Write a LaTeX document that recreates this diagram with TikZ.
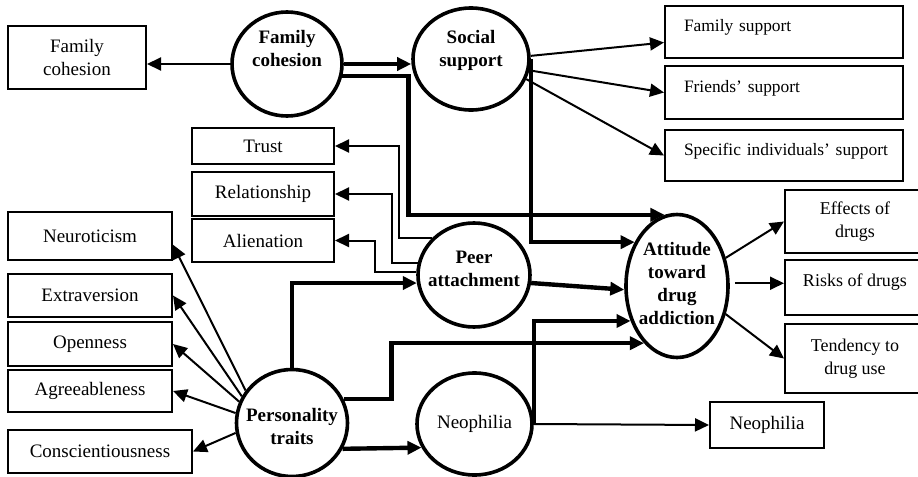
\documentclass[tikz,border=0pt]{standalone}
\usepackage{fontspec}
\setmainfont{Liberation Serif}
\usetikzlibrary{positioning, arrows.meta, shapes.geometric}

\begin{document}
\begin{tikzpicture}[
  x=0.5pt, y=-0.5pt,
  font=\fontsize{9.5}{11.5}\selectfont,
  box/.style={draw, line width=1pt, align=center, inner sep=2pt},
  supbox/.style={box, minimum width=119pt, text width=100pt, align=left,
                 font=\fontsize{8.7}{11}\selectfont, text height=6.5pt, text depth=7pt},
  drugbox/.style={box, minimum width=70pt, font=\fontsize{9}{11.5}\selectfont},
  trait/.style={box, minimum width=82pt},
  blob/.style={draw, ellipse, line width=1.8pt, inner sep=0pt},
  blobtxt/.style={align=center, font=\fontsize{9.5}{11.5}\selectfont\bfseries},
  ar/.style={-{Triangle[length=7pt, width=6.5pt]}, line width=1pt},
  thk/.style={-{Triangle[length=7pt, width=6.5pt]}, line width=2.2pt},
]
  \useasboundingbox (0,0) rectangle (918,477);
  \clip (0,0) rectangle (918,477);

  % constructs
  \node[blob, minimum width=55pt, minimum height=52pt] (fc) at (287,64) {};
  \node[blobtxt] (fctx) at (287,48) {Family\\cohesion};
  \node[blob, minimum width=58pt, minimum height=51pt] (ss) at (471,59) {};
  \node[blobtxt] (sstx) at (471,50) {Social\\support};
  \node[blob, minimum width=56pt, minimum height=52pt] (peer) at (474,275) {};
  \node[blobtxt] (peertx) at (474,269) {Peer\\attachment};
  \node[blob, minimum width=51pt, minimum height=71.5pt] (att) at (677,286) {};
  \node[blobtxt] (atttx) at (677,283) {Attitude\\toward\\drug\\addiction};
  \node[blob, minimum width=55.5pt, minimum height=53.5pt] (pers) at (292,423) {};
  \node[blobtxt] (perstx) at (292,426) {Personality\\traits};
  \node[blob, minimum width=57.5pt, minimum height=51pt] (neo) at (474.5,424) {Neophilia};

  % indicators
  \node[box, minimum width=69pt, minimum height=31.5pt] (fcbox) at (77,57.5) {Family\\cohesion};
  \node[box, minimum width=71pt, minimum height=18pt] (trust) at (263,146) {Trust};
  \node[box, minimum width=71pt, minimum height=22pt] (rel) at (263,194) {Relationship};
  \node[box, minimum width=71pt, minimum height=21.5pt] (alien) at (263,240.5) {Alienation};
  \node[trait, minimum height=24pt] (neuro) at (90,236) {Neuroticism};
  \node[trait, minimum height=21.5pt] (extra) at (90,295.5) {Extraversion};
  \node[trait, minimum height=22pt] (open) at (90,344) {Openness};
  \node[trait, minimum height=21pt] (agree) at (90,391) {Agreeableness};
  \node[box, minimum width=92pt, minimum height=21.5pt] (consc) at (100,451.5) {Conscientiousness};
  \node[supbox, minimum height=26pt] (famsup) at (784,32) {Family support};
  \node[supbox, minimum height=26.5pt, below=3pt of famsup] (frsup) {Friends' support};
  \node[supbox, minimum height=25.5pt, below=4.5pt of frsup] (specsup) {\mbox{Specific individuals' support}};
  \node[drugbox, minimum height=31.5pt] (effects) at (855,221.5) {Effects of\\drugs};
  \node[drugbox, minimum height=27.5pt, below=2.5pt of effects,
        text height=6.5pt, text depth=8pt] (risks) {Risks of drugs};
  \node[drugbox, minimum height=34.5pt, below=3.5pt of risks] (tend) {Tendency to\\drug use};
  \node[box, minimum width=57pt, minimum height=23pt] (neobox) at (767,425) {Neophilia};

  % paths
  \draw[ar] (fc.west) -- (fc.west -| fcbox.east);
  \draw[thk] (fc.east) -- (fc.east -| ss.west);
  \draw[thk] (fc.-12) -- ++(66,0) |- (att.100);
  \draw[thk] (ss.east) |- (att.134);
  \draw[ar] (ss.3) -- (famsup.185);
  \draw[ar] (ss.-11) -- (frsup.west);
  \draw[ar] (ss.-20) -- (specsup.west);
  \draw[ar] (peer.139) -- ++(-33,0) |- (trust.east);
  \draw[ar] (peer.168) -- ++(-26,0) |- (rel.east);
  \draw[ar] (peer.177) -- ++(-41,0) |- (alien.east);
  \draw[thk] (peer.-8) -- (att.184);
  \draw[thk] (pers.north) |- (peer.188);
  \draw[thk] (pers.25) -- ++(48,0) |- (att.-120);
  \draw[thk] (neo.east) |- (att.217);
  \draw[ar] (neo.east) -- (neobox.west);
  \draw[thk] (pers.-27) -- (neo.204);
  \draw[ar] (att.30) -- (effects.west);
  \draw[ar, shorten <=2.5pt] (att.3) -- (att.3 -| risks.west);
  \draw[ar] (att.-30) -- (tend.west);
  \foreach \b/\a in {neuro.-6/145, extra.east/152, open.east/158, agree.east/170, consc.east/190}
    \draw[ar] (pers.\a) -- (\b);
\end{tikzpicture}
\end{document}
